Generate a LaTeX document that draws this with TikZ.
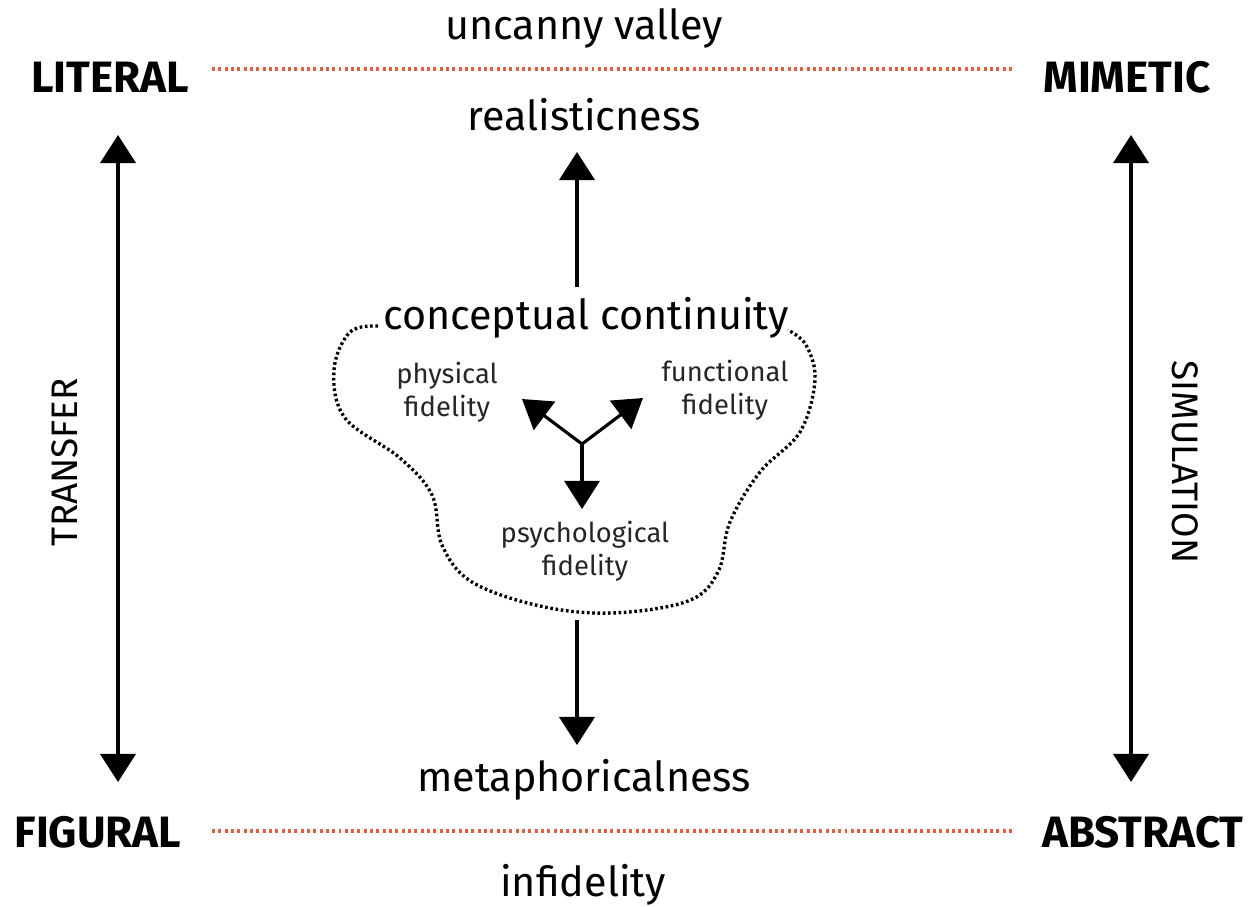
\documentclass[tikz,border=0pt]{standalone}
\usepackage{fontspec}
\setmainfont{Fira Sans}
\usetikzlibrary{arrows.meta}
\definecolor{dotred}{RGB}{222,96,66}
\begin{document}
\begin{tikzpicture}[x=0.02cm, y=-0.02cm,
    pole/.style={font=\fontsize{25}{28}\selectfont\bfseries},
    term/.style={font=\fontsize{23.5}{26}\selectfont},
    small/.style={font=\fontsize{15.6}{18.5}\selectfont, align=center, text=black!85},
    axis/.style={font=\fontsize{21}{24}\selectfont},
    arr/.style={-{Triangle[width=20pt, length=16pt]}, line width=2.2pt},
    both/.style={{Triangle[width=20pt, length=16pt]}-{Triangle[width=20pt, length=16pt]}, line width=2.2pt},
    link/.style={dotred, line width=2pt, dash pattern=on 1.7pt off 1.9pt}]
    \useasboundingbox (0, 0) rectangle (1250, 906);

    %Nodes
    \node[pole] at (110, 77) (lit) {LITERAL};
    \node[pole] at (1127, 77) (mim) {MIMETIC};
    \node[pole] at (98, 832) (fig) {FIGURAL};
    \node[pole] at (1143, 832) (abs) {ABSTRACT};
    \node[term] at (584, 28) (unc) {uncanny valley};
    \node[term] at (584, 115) (real) {realisticness};
    \node[term] at (586, 318) (cc) {conceptual continuity};
    \node[term] at (584, 780) (meta) {metaphoricalness};
    \node[term] at (583, 885) (inf) {infidelity};
    \node[small] at (447, 392) (phys) {physical\\fidelity};
    \node[small] at (725, 390) (func) {functional\\fidelity};
    \node[small] at (585, 551) (psy) {psychological\\fidelity};
    \node[axis, rotate=90] at (65, 462) (tra) {TRANSFER};
    \node[axis, rotate=-90] at (1185, 462) (sim) {SIMULATION};

    \coordinate (l1) at (212, 69);
    \coordinate (l2) at (1015, 69);
    \coordinate (l3) at (212, 831);
    \coordinate (l4) at (1015, 831);
    \coordinate (lt) at (118, 135);
    \coordinate (lb) at (118, 782);
    \coordinate (rt) at (1131, 135);
    \coordinate (rb) at (1131, 782);
    \coordinate (up0) at (577, 287);
    \coordinate (up1) at (577, 152);
    \coordinate (dn0) at (577, 620);
    \coordinate (dn1) at (577, 745);
    \coordinate (y) at (582, 444);
    \coordinate (yl) at (522, 399);
    \coordinate (yr) at (643, 398);
    \coordinate (yd) at (582, 509);

    %Lines
    \draw[link] (l1) -- (l2);
    \draw[link] (l3) -- (l4);
    \draw[both] (lt) -- (lb);
    \draw[both] (rt) -- (rb);
    \draw[arr] (up0) -- (up1);
    \draw[arr] (dn0) -- (dn1);
    \draw[arr, line width=1.8pt] (y) -- (yl);
    \draw[arr, line width=1.8pt] (y) -- (yr);
    \draw[arr, line width=1.8pt] (y) -- (yd);

    %Blob
    \draw[line width=1.9pt, dash pattern=on 1.5pt off 1.5pt]
        plot[smooth, tension=0.6] coordinates {(378, 326) (350, 332) (334, 370)
        (345, 418) (400, 458) (432, 495) (442, 545) (472, 582) (540, 606)
        (612, 613) (688, 601) (718, 572) (730, 522) (760, 472) (800, 432)
        (815, 380) (806, 345) (788, 330)};
\end{tikzpicture}
\end{document}
